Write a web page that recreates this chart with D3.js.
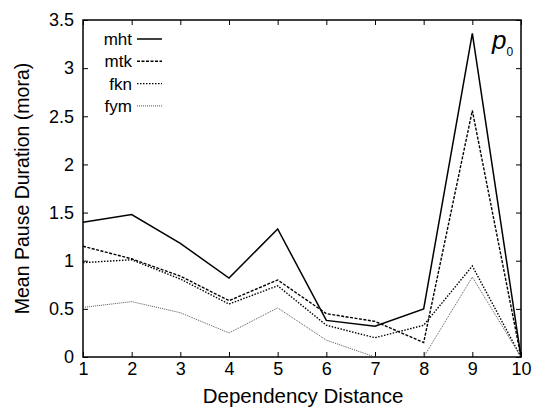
<!DOCTYPE html>
<html>
<head>
<meta charset="utf-8">
<script src="https://cdn.jsdelivr.net/npm/d3@7"></script>
<style>
  body { margin: 0; background: #fff; }
  text { font-family: "Liberation Sans", Arial, sans-serif; }
</style>
</head>
<body>
<div id="chart"></div>
<script>
// Data
var distances = [1, 2, 3, 4, 5, 6, 7, 8, 9, 10];
var mht = [1.40, 1.48, 1.18, 0.82, 1.33, 0.38, 0.32, 0.50, 3.36, 0];
var mtk = [1.15, 1.02, 0.84, 0.585, 0.80, 0.45, 0.37, 0.15, 2.56, 0];
var fkn = [0.98, 1.01, 0.81, 0.55, 0.74, 0.33, 0.20, 0.33, 0.945, 0];
var fym = [0.515, 0.575, 0.46, 0.25, 0.51, 0.175, 0, 0, 0.83, 0];
var seriesNames = ["mht", "mtk", "fkn", "fym"];
var yTicks = [0, 0.5, 1, 1.5, 2, 2.5, 3, 3.5];

var svgWidth = 542;
var svgHeight = 410;
var margin = { top: 20, right: 21, bottom: 53, left: 83 };
var width = svgWidth - margin.left - margin.right;
var height = svgHeight - margin.top - margin.bottom;

var svg = d3.select("#chart")
  .append("svg")
  .attr("width", svgWidth)
  .attr("height", svgHeight);

var chartGroup = svg.append("g")
  .attr("transform", `translate(${margin.left}, ${margin.top})`);

var x = d3.scaleLinear().domain([1, 10]).range([0, width]);
var y = d3.scaleLinear().domain([0, 3.5]).range([height, 0]);

// styles per series
var styles = {
  mht: { dash: null, width: 1.5, color: "#000" },
  mtk: { dash: "3,1.5", width: 1.4, color: "#000" },
  fkn: { dash: "1.5,1.5", width: 1.4, color: "#000" },
  fym: { dash: "1,1", width: 1, color: "#555" }
};
var seriesData = { mht: mht, mtk: mtk, fkn: fkn, fym: fym };

// axes: ticks inside, mirrored on top and right
function styleAxis(g) {
  g.select(".domain").remove();
  g.selectAll(".tick line").attr("stroke", "#000").attr("stroke-width", 1);
  g.selectAll(".tick text").attr("font-size", "18px").attr("fill", "#000")
    .attr("font-family", "Liberation Sans, Arial, sans-serif");
}

chartGroup.append("g")
  .attr("transform", `translate(0, ${height})`)
  .call(d3.axisBottom(x).tickValues(distances).tickSizeInner(-5).tickSizeOuter(0).tickPadding(5).tickFormat(d3.format("d")))
  .call(styleAxis);

chartGroup.append("g")
  .call(d3.axisTop(x).tickValues(distances).tickSizeInner(-5).tickSizeOuter(0).tickFormat(""))
  .call(styleAxis);

chartGroup.append("g")
  .call(d3.axisLeft(y).tickValues(yTicks).tickSizeInner(-5).tickSizeOuter(0).tickPadding(9).tickFormat(d3.format("")))
  .call(styleAxis);

chartGroup.append("g")
  .attr("transform", `translate(${width}, 0)`)
  .call(d3.axisRight(y).tickValues(yTicks).tickSizeInner(-5).tickSizeOuter(0).tickFormat(""))
  .call(styleAxis);

// frame
chartGroup.append("rect")
  .attr("x", 0).attr("y", 0)
  .attr("width", width).attr("height", height)
  .attr("fill", "none")
  .attr("stroke", "#000")
  .attr("stroke-width", 1.5);

// lines
var line = d3.line()
  .x((d, i) => x(distances[i]))
  .y(d => y(d));

seriesNames.forEach(function(name) {
  var s = styles[name];
  chartGroup.append("path")
    .datum(seriesData[name])
    .attr("d", line)
    .attr("fill", "none")
    .attr("stroke", s.color)
    .attr("stroke-width", s.width)
    .attr("stroke-dasharray", s.dash);
});

// legend
var legend = chartGroup.append("g").attr("transform", "translate(0, 19)");
seriesNames.forEach(function(name, i) {
  var s = styles[name];
  var gy = i * 22.3;
  legend.append("text")
    .attr("x", 49)
    .attr("y", gy + 6)
    .attr("text-anchor", "end")
    .attr("font-size", "17px")
    .text(name);
  legend.append("line")
    .attr("x1", 54).attr("x2", 79)
    .attr("y1", gy).attr("y2", gy)
    .attr("stroke", s.color)
    .attr("stroke-width", s.width)
    .attr("stroke-dasharray", s.dash);
});

// panel label
var pLabel = chartGroup.append("text")
  .attr("x", width - 29)
  .attr("y", 29)
  .attr("font-family", "Liberation Serif, Times New Roman, serif")
  .attr("font-style", "italic")
  .attr("font-size", "26px");
pLabel.append("tspan").text("p");
pLabel.append("tspan")
  .attr("font-style", "normal")
  .attr("font-size", "12px")
  .attr("dy", 7)
  .text("0");

// axis titles
chartGroup.append("text")
  .attr("transform", `translate(${width / 2 + 1}, ${height + 46})`)
  .attr("text-anchor", "middle")
  .attr("font-size", "20.5px")
  .text("Dependency Distance");

chartGroup.append("text")
  .attr("transform", "rotate(-90)")
  .attr("x", 0 - height / 2)
  .attr("y", 0 - margin.left + 29)
  .attr("text-anchor", "middle")
  .attr("font-size", "19.5px")
  .text("Mean Pause Duration (mora)");
</script>
</body>
</html>
